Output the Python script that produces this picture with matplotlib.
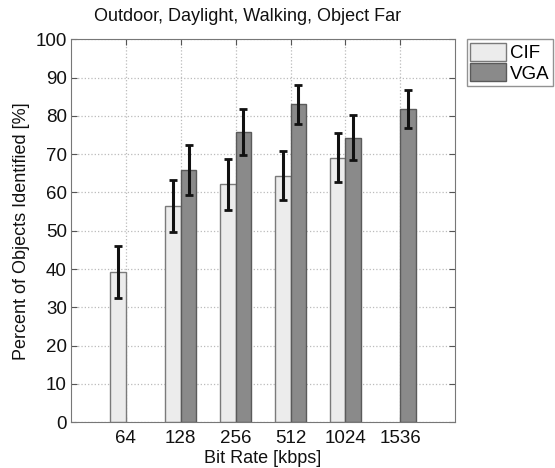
import numpy as np
import matplotlib.pyplot as plt

plt.rcParams['font.family'] = ['Liberation Sans', 'DejaVu Sans']

rates = ['64', '128', '256', '512', '1024', '1536']
cif = [39.2, 56.4, 62.1, 64.4, 69.1, np.nan]
cif_err = [6.7, 6.8, 6.6, 6.5, 6.4, np.nan]
vga = [np.nan, 65.8, 75.8, 83.0, 74.3, 81.8]
vga_err = [np.nan, 6.5, 6.0, 5.1, 5.9, 5.0]

x = np.arange(1, len(rates) + 1)
w = 0.285

fig = plt.figure(figsize=(5.55, 4.68), dpi=100)
ax = fig.add_axes([0.128, 0.098, 0.692, 0.818])

ax.bar(x - w / 2, cif, w, color='#ececec', edgecolor='#7a7a7a', linewidth=1, label='CIF', zorder=2)
ax.bar(x + w / 2, vga, w, color='#8a8a8a', edgecolor='#5a5a5a', linewidth=1, label='VGA', zorder=2)
ax.errorbar(x - w / 2, cif, yerr=cif_err, fmt='none', ecolor='#111111', elinewidth=2.2,
            capsize=3, capthick=2, zorder=3)
ax.errorbar(x + w / 2, vga, yerr=vga_err, fmt='none', ecolor='#111111', elinewidth=2.2,
            capsize=3, capthick=2, zorder=3)

ax.set_xlim(0, 7)
ax.set_ylim(0, 100)
ax.set_xticks(x)
ax.set_xticklabels(rates)
ax.set_yticks(np.arange(0, 101, 10))
ax.tick_params(direction='in', labelsize=13.5, colors='#555555', labelcolor='#111111',
               length=4, pad=3, right=True, top=True)
ax.tick_params(axis='x', pad=6)
ax.grid(True, linestyle=':', color='#bbbbbb', linewidth=0.9, zorder=0)
ax.set_axisbelow(True)
for s in ax.spines.values():
    s.set_color('#777777')

ax.set_title('Outdoor, Daylight, Walking, Object Far', fontsize=13, pad=13, color='#111111', x=0.46)
ax.set_xlabel('Bit Rate [kbps]', fontsize=13, labelpad=2, color='#111111')
ax.set_ylabel('Percent of Objects Identified [%]', fontsize=13, labelpad=4, color='#111111')

leg = ax.legend(loc='upper left', bbox_to_anchor=(1.03, 1.0), fontsize=13.5, fancybox=False,
                handlelength=1.9, handleheight=1.1, handletextpad=0.2, borderpad=0.2,
                labelspacing=0.05, borderaxespad=0)
leg.get_frame().set_edgecolor('#777777')
leg.get_frame().set_linewidth(1)

plt.savefig('out.png')
